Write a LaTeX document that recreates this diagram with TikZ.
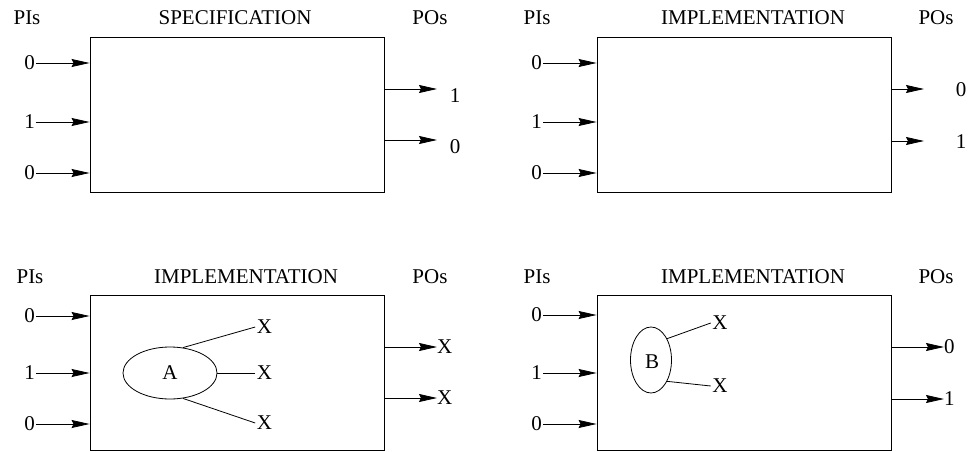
\documentclass[tikz,border=0pt]{standalone}
\usepackage{fontspec}
\setmainfont{Liberation Serif}
\usetikzlibrary{arrows.meta,shapes.geometric}
\begin{document}
\begin{tikzpicture}[x=1pt,y=-1pt,
  every node/.style={inner sep=1pt},
  lbl/.style={font=\fontsize{21}{23}\selectfont},
  sml/.style={font=\fontsize{21}{23}\selectfont, inner sep=1.5pt},
  blk/.style={draw, line width=0.9pt, minimum width=294pt, minimum height=155pt, inner sep=0pt},
  sig/.style={line width=0.8pt, -{Stealth[length=18pt,width=8pt,inset=2pt]}},
  wire/.style={line width=0.8pt},
  bub/.style={draw, ellipse, line width=0.8pt, inner sep=0pt}]
\useasboundingbox (0,0) rectangle (969,452);

% ---------- top left: SPECIFICATION ----------
\node[blk] (b1) at (237,114.5) {};
\node[lbl] (p1) at (27,18) {PIs};
\node[lbl] (t1) at (235,18) {SPECIFICATION};
\node[lbl] (o1) at (430,18) {POs};
\node[lbl, anchor=east] (i11) at (36,63) {0};
\node[lbl, anchor=east] (i12) at (36,122) {1};
\node[lbl, anchor=east] (i13) at (36,173) {0};
\draw[sig] (i11.east) -- (i11.east -| b1.west);
\draw[sig] (i12.east) -- (i12.east -| b1.west);
\draw[sig] (i13.east) -- (i13.east -| b1.west);
\coordinate (e11) at (437,89);
\coordinate (e12) at (437,140);
\draw[sig] (e11 -| b1.east) -- (e11);
\draw[sig] (e12 -| b1.east) -- (e12);
\node[lbl] (q11) at (455,96) {1};
\node[lbl] (q12) at (455,147) {0};

% ---------- top right: IMPLEMENTATION ----------
\node[blk] (b2) at (744,114.5) {};
\node[lbl] (p2) at (537,18) {PIs};
\node[lbl] (t2) at (753,18) {IMPLEMENTATION};
\node[lbl] (o2) at (936,18) {POs};
\node[lbl, anchor=east] (i21) at (543,63) {0};
\node[lbl, anchor=east] (i22) at (543,122) {1};
\node[lbl, anchor=east] (i23) at (543,173) {0};
\draw[sig] (i21.east) -- (i21.east -| b2.west);
\draw[sig] (i22.east) -- (i22.east -| b2.west);
\draw[sig] (i23.east) -- (i23.east -| b2.west);
\coordinate (e21) at (924,89);
\coordinate (e22) at (924,141);
\draw[sig] (e21 -| b2.east) -- (e21);
\draw[sig] (e22 -| b2.east) -- (e22);
\node[lbl] (q21) at (961,90) {0};
\node[lbl] (q22) at (961,142) {1};

% ---------- bottom left: IMPLEMENTATION with A ----------
\node[blk] (b3) at (237,372.5) {};
\node[lbl] (p3) at (30,277) {PIs};
\node[lbl] (t3) at (246,277) {IMPLEMENTATION};
\node[lbl] (o3) at (430,277) {POs};
\node[lbl, anchor=east] (i31) at (36,316) {0};
\node[lbl, anchor=east] (i32) at (36,373) {1};
\node[lbl, anchor=east] (i33) at (36,424) {0};
\draw[sig] (i31.east) -- (i31.east -| b3.west);
\draw[sig] (i32.east) -- (i32.east -| b3.west);
\draw[sig] (i33.east) -- (i33.east -| b3.west);
\node[lbl, anchor=west, inner sep=0pt] (q31) at (437,347) {X};
\node[lbl, anchor=west, inner sep=0pt] (q32) at (437,398) {X};
\draw[sig] (q31.west -| b3.east) -- (q31.west);
\draw[sig] (q32.west -| b3.east) -- (q32.west);
\node[bub, minimum width=94pt, minimum height=52pt] (A) at (170,373) {};
\node[sml] at (A.center) {A};
\node[sml] (x1) at (264.5,327) {X};
\node[sml] (x2) at (264.5,373) {X};
\node[sml] (x3) at (264.5,423) {X};
\draw[wire] (A.63) -- (x1.west);
\draw[wire] (A.east) -- (x2.west);
\draw[wire] (A.-63) -- (x3.west);

% ---------- bottom right: IMPLEMENTATION with B ----------
\node[blk] (b4) at (744,372.5) {};
\node[lbl] (p4) at (537,277) {PIs};
\node[lbl] (t4) at (753,277) {IMPLEMENTATION};
\node[lbl] (o4) at (936,277) {POs};
\node[lbl, anchor=east] (i41) at (543,315) {0};
\node[lbl, anchor=east] (i42) at (543,373) {1};
\node[lbl, anchor=east] (i43) at (543,424) {0};
\draw[sig] (i41.east) -- (i41.east -| b4.west);
\draw[sig] (i42.east) -- (i42.east -| b4.west);
\draw[sig] (i43.east) -- (i43.east -| b4.west);
\node[lbl, anchor=west, inner sep=0pt] (q41) at (944,347) {0};
\node[lbl, anchor=west, inner sep=0pt] (q42) at (944,399) {1};
\draw[sig] (q41.west -| b4.east) -- (q41.west);
\draw[sig] (q42.west -| b4.east) -- (q42.west);
\node[bub, minimum width=41pt, minimum height=66pt] (B) at (651,360) {};
\node[sml] at (652,362) {B};
\node[sml] (y1) at (720,323) {X};
\node[sml] (y2) at (720,386) {X};
\draw[wire] (B.53) -- (y1.west);
\draw[wire] (B.-53) -- (y2.west);
\end{tikzpicture}
\end{document}
